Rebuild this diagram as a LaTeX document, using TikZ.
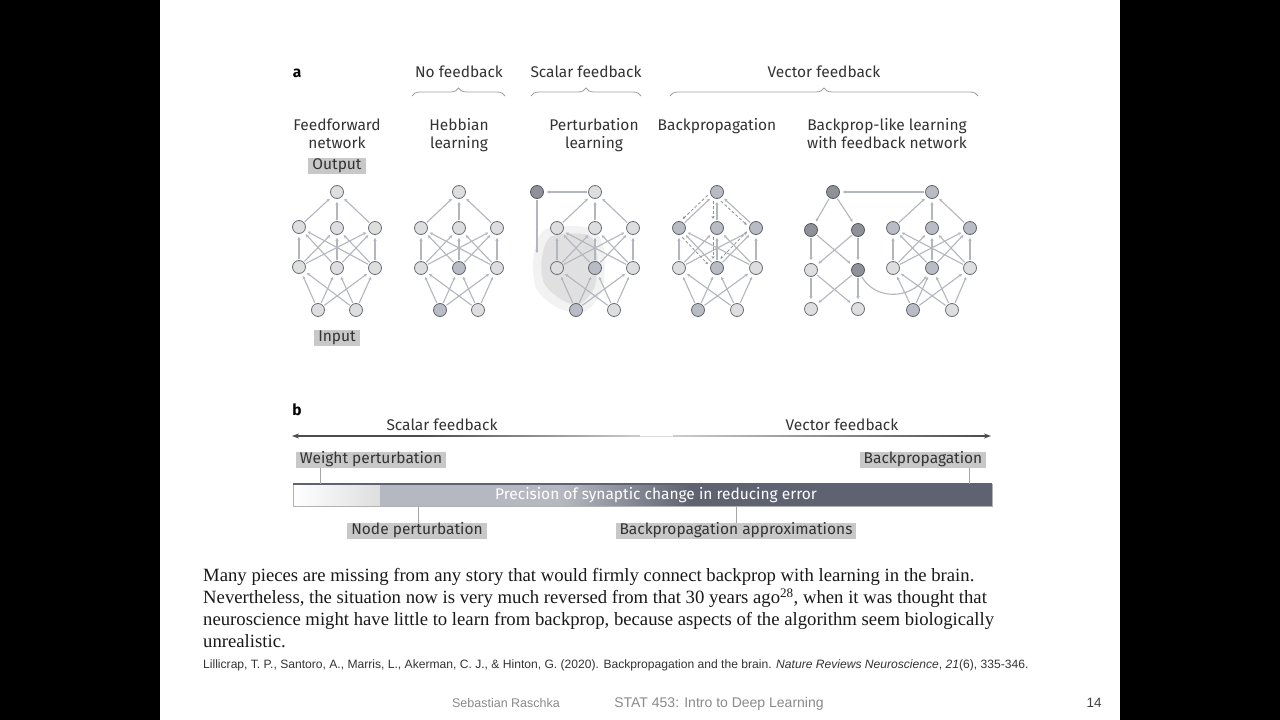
\documentclass[tikz,border=0pt]{standalone}
\usepackage{fontspec}
\setmainfont{Liberation Serif}
\newfontfamily\natf{Fira Sans}
\newfontfamily\arf{Liberation Sans}
\usetikzlibrary{arrows.meta,decorations.pathreplacing,calc}
\definecolor{edgec}{HTML}{B3B6BD}
\definecolor{ringc}{HTML}{6A6E78}
\definecolor{litec}{HTML}{DEDEDE}
\definecolor{midc}{HTML}{B9BCC5}
\definecolor{darkc}{HTML}{8F9199}
\definecolor{txtc}{HTML}{333333}
\definecolor{boxc}{HTML}{C8C8C8}
\definecolor{barlight}{HTML}{B6B8C1}
\definecolor{bardark}{HTML}{5F6371}
\definecolor{footc}{HTML}{8A8A8A}
\newcommand\netedges[1]{%
  \foreach \s in {i1,i2} \foreach \t in {l1,l2,l3} \draw[edge] (#1\s) -- (#1\t);
  \foreach \s in {l1,l2,l3} \foreach \t in {m1,m2,m3} \draw[edge] (#1\s) -- (#1\t);
  \foreach \s in {m1,m2,m3} \draw[edge] (#1\s) -- (#1top);
}
\newcommand\fbarrow[2]{%
  \draw[fbline] ($(#1)!4pt!-90:(#2)$) -- ($(#2)!4pt!90:(#1)$);
}
\begin{document}
\begin{tikzpicture}[x=1pt,y=-1pt,
  lite/.style={circle,minimum size=13pt,inner sep=0pt,draw=ringc,line width=0.8pt,fill=litec},
  mid/.style={lite,fill=midc,draw=ringc!90!black},
  dark/.style={lite,fill=darkc,draw=ringc!80!black},
  edge/.style={draw=edgec,line width=1.1pt,-{Stealth[length=3pt,width=3.2pt]},shorten >=3pt,shorten <=1pt},
  fbline/.style={draw=edgec!80!black,line width=0.8pt,dashed,dash pattern=on 3pt off 2pt,-{Stealth[length=3pt,width=3pt]},shorten >=9pt,shorten <=9pt},
  title/.style={font=\natf\fontsize{15.5}{18}\selectfont,text=txtc,anchor=base,inner sep=0pt},
  lbox/.style={font=\natf\fontsize{15.5}{18}\selectfont,text=txtc,fill=boxc,inner xsep=4pt,inner ysep=0pt,text height=11.5pt,text depth=4.5pt},
  brc/.style={draw=gray!75,line width=0.8pt,decorate,decoration={brace,amplitude=8pt,aspect=0.5}},
  tick/.style={draw=gray!70,line width=0.8pt},
  body/.style={font=\fontsize{18.7}{22}\selectfont,anchor=base west,inner sep=0pt,text=black!90}
]
\useasboundingbox (0,0) rectangle (1280,720);
\fill[black] (0,0) rectangle (160,720);
\fill[black] (1120,0) rectangle (1280,720);
\fill[white] (160,0) rectangle (1120,720);

% ---------------- part a: headers
\node[title,font=\natf\bfseries\fontsize{15.5}{18}\selectfont,text=black] (la) at (297,77) {a};
\node[title] (hno) at (459,77) {No feedback};
\node[title] (hsc) at (586,77) {Scalar feedback};
\node[title] (hve) at (824,77) {Vector feedback};
\draw[brc] (412,96) -- (505,96);
\draw[brc] (531,96) -- (641,96);
\draw[brc] (670,96) -- (978,96);

\node[title] (t1a) at (337,130) {Feedforward};
\node[title] (t1b) at (337,148) {network};
\node[title] (t2a) at (459,130) {Hebbian};
\node[title] (t2b) at (459,148) {learning};
\node[title] (t3a) at (594,130) {Perturbation};
\node[title] (t3b) at (594,148) {learning};
\node[title] (t4a) at (717,130) {Backpropagation};
\node[title] (t5a) at (887,130) {Backprop-like learning};
\node[title] (t5b) at (887,148) {with feedback network};
\node[lbox] (outl) at (337,165.5) {Output};
\node[lbox] (inl) at (337,338) {Input};

% perturbation cloud
\fill[gray!40,opacity=0.25] plot[smooth cycle] coordinates {(546,229) (590,228) (604,250) (602,290) (584,312) (558,308) (536,288) (534,254)};
\fill[gray!50,opacity=0.35] plot[smooth cycle] coordinates {(552,236) (588,235) (597,254) (595,286) (580,304) (562,300) (544,283) (542,257)};

% ---------------- networks
% Feedforward
\node[lite] (fftop) at (337,192) {};
\node[lite] (ffm1) at (299,227) {};
\node[lite] (ffm2) at (337,228) {};
\node[lite] (ffm3) at (375,228) {};
\node[lite] (ffl1) at (299,267) {};
\node[lite] (ffl2) at (337,268) {};
\node[lite] (ffl3) at (375,268) {};
\node[lite] (ffi1) at (318,310) {};
\node[lite] (ffi2) at (356,310) {};
\netedges{ff}
% Hebbian
\node[lite] (hbtop) at (459,192) {};
\node[lite] (hbm1) at (421,228) {};
\node[lite] (hbm2) at (459,228) {};
\node[lite] (hbm3) at (497,228) {};
\node[lite] (hbl1) at (421,268) {};
\node[mid] (hbl2) at (459,268) {};
\node[lite] (hbl3) at (497,268) {};
\node[mid] (hbi1) at (440,310) {};
\node[lite] (hbi2) at (478,310) {};
\netedges{hb}
% Perturbation
\node[lite] (pttop) at (595,192) {};
\node[lite] (ptm1) at (557,228) {};
\node[lite] (ptm2) at (595,228) {};
\node[lite] (ptm3) at (633,228) {};
\node[lite] (ptl1) at (557,268) {};
\node[mid] (ptl2) at (595,268) {};
\node[lite] (ptl3) at (633,268) {};
\node[mid] (pti1) at (576,310) {};
\node[lite] (pti2) at (614,310) {};
\node[dark] (ptx) at (537,192) {};
\coordinate (ptd) at (537,253);
\netedges{pt}
\draw[edge] (pttop) -- (ptx);
\draw[edge,shorten >=0pt] (ptx) -- (ptd);
% Backprop
\node[mid] (bptop) at (717,192) {};
\node[mid] (bpm1) at (679,228) {};
\node[mid] (bpm2) at (717,228) {};
\node[mid] (bpm3) at (756,228) {};
\node[lite] (bpl1) at (679,268) {};
\node[mid] (bpl2) at (717,268) {};
\node[lite] (bpl3) at (756,268) {};
\node[mid] (bpi1) at (698,310) {};
\node[lite] (bpi2) at (737,310) {};
\netedges{bp}
\fbarrow{bptop}{bpm1}
\fbarrow{bptop}{bpm2}
\fbarrow{bptop}{bpm3}
\fbarrow{bpm1}{bpl2}
\fbarrow{bpm2}{bpl2}
\fbarrow{bpm3}{bpl2}
% Feedback network (left)
\node[dark] (fltop) at (833,192) {};
\node[dark] (flm1) at (811,230) {};
\node[dark] (flm2) at (858,230) {};
\node[lite] (fll1) at (811,270) {};
\node[dark] (fll2) at (858,270) {};
\node[lite] (fli1) at (811,309) {};
\node[lite] (fli2) at (858,309) {};
\foreach \t in {m1,m2} \draw[edge] (fltop) -- (fl\t);
\foreach \s in {m1,m2} \foreach \t in {l1,l2} \draw[edge] (fl\s) -- (fl\t);
\foreach \s in {l1,l2} \foreach \t in {i1,i2} \draw[edge] (fl\s) -- (fl\t);
% Feedback network (right)
\node[mid] (frtop) at (932,192) {};
\node[mid] (frm1) at (893,228) {};
\node[mid] (frm2) at (932,228) {};
\node[mid] (frm3) at (970,228) {};
\node[lite] (frl1) at (893,268) {};
\node[mid] (frl2) at (932,268) {};
\node[lite] (frl3) at (970,268) {};
\node[mid] (fri1) at (913,310) {};
\node[lite] (fri2) at (952,310) {};
\netedges{fr}
\draw[edge] (frtop) -- (fltop);
\draw[edge] (fll2) .. controls (875,300) and (910,300) .. (frl2);

% ---------------- part b
\node[title,font=\natf\bfseries\fontsize{15.5}{18}\selectfont,text=black] (lb) at (297,415) {b};
\node[title] (bsc) at (442,430) {Scalar feedback};
\node[title] (bve) at (842,430) {Vector feedback};
\fill[black!70] (296,435.3) rectangle (423,436.7);
\shade[left color=black!70,right color=edgec!70] (423,435.3) rectangle (640,436.7);
\shade[left color=edgec!70,right color=black!70] (673,435.3) rectangle (985,436.7);
\fill[edgec!50] (640,435.5) rectangle (673,436.5);
\coordinate (arL0) at (300,436);
\coordinate (arL1) at (292,436);
\coordinate (arR0) at (982,436);
\coordinate (arR1) at (991,436);
\draw[line width=1.4pt,black!70,-{Stealth[length=7pt,width=5pt]}] (arL0) -- (arL1);
\draw[line width=1.4pt,black!70,-{Stealth[length=7pt,width=5pt]}] (arR0) -- (arR1);

% bar
\shade[left color=white,right color=litec] (293,484) rectangle (380,506);
\fill[barlight] (380,484) rectangle (560,506);
\shade[left color=barlight,right color=bardark] (560,484) rectangle (690,506);
\fill[bardark] (690,484) rectangle (992,506);
\draw[gray!60,line width=0.6pt] (293,484) rectangle (992,506);
\draw[bardark,line width=1.2pt] (293,484) -- (992,484);
\node[font=\natf\fontsize{15.5}{18}\selectfont,text=white] (bartxt) at (656,495.5) {Precision of synaptic change in reducing error};
\coordinate (barW) at (320,484);
\coordinate (barB) at (969,484);
\coordinate (barN) at (418,506);
\coordinate (barA) at (736,506);

\node[lbox] (wp) at (371,459.5) {Weight perturbation};
\node[lbox] (bpl) at (923,459.5) {Backpropagation};
\node[lbox] (np) at (417,531) {Node perturbation};
\node[lbox] (bpa) at (736,531) {Backpropagation approximations};
\draw[tick] (barW) -- (barW |- wp.south);
\draw[tick] (barB) -- (barB |- bpl.south);
\draw[tick] (barN) -- (barN |- np.north);
\draw[tick] (barA) -- (barA |- bpa.north);

% ---------------- text
\node[body] (p1) at (203,581.5) {Many pieces are missing from any story that would firmly connect backprop with learning in the brain.};
\node[body] (p2) at (203,603.5) {Nevertheless, the situation now is very much reversed from that 30 years ago\textsuperscript{28}, when it was thought that};
\node[body] (p3) at (203,625.5) {neuroscience might have little to learn from backprop, because aspects of the algorithm seem biologically};
\node[body] (p4) at (203,647) {unrealistic.};
\node[font=\arf\fontsize{12.1}{14}\selectfont,anchor=base west,inner sep=0pt,text=black!80] (cite) at (203,668) {Lillicrap, T. P., Santoro, A., Marris, L., Akerman, C. J., \& Hinton, G. (2020). Backpropagation and the brain. \textit{Nature Reviews Neuroscience}, \textit{21}(6), 335-346.};
\node[font=\arf\fontsize{12.5}{15}\selectfont,anchor=base,inner sep=0pt,text=footc] (f1) at (506,707) {Sebastian Raschka};
\node[font=\arf\fontsize{14}{16}\selectfont,anchor=base,inner sep=0pt,text=footc] (f2) at (719,707) {STAT 453: Intro to Deep Learning};
\node[font=\arf\fontsize{13.5}{15}\selectfont,anchor=base,inner sep=0pt,text=black!75] (f3) at (1094,707) {14};
\end{tikzpicture}
\end{document}
